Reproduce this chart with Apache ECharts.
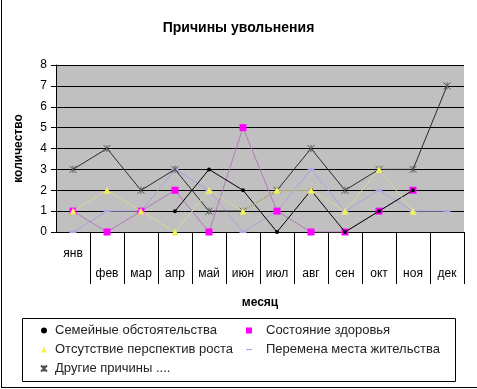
<!DOCTYPE html>
<html>
<head>
<meta charset="utf-8">
<script src="https://cdn.jsdelivr.net/npm/echarts@6/dist/echarts.min.js"></script>
<style>html,body{margin:0;padding:0;background:#fff}#c{width:477px;height:389px}</style>
</head>
<body>
<div id="c"></div>
<script>
var months = ['янв','фев','мар','апр','май','июн','июл','авг','сен','окт','ноя','дек'];
var yTicks = [0,1,2,3,4,5,6,7,8];
var seriesNames = ['Семейные обстоятельства','Состояние здоровья','Отсутствие перспектив роста','Перемена места жительства','Другие причины ....'];
var family   = [null,null,null,1,3,2,0,2,0,1,2,null];
var health   = [1,0,1,2,0,5,1,0,0,1,2,null];
var prospect = [1,2,1,0,2,1,2,2,1,3,1,null];
var moving   = [0,1,1,3,2,0,1,3,1,2,1,1];
var other    = [3,4,2,3,1,1,2,4,2,3,3,7];

var font = 'Liberation Sans, Arial, sans-serif';
var crossPath = 'path://M0,0L10,10M10,0L0,10M5,0L5,10';
var dashPath = 'path://M0,4H10V6H0Z';
var chart = echarts.init(document.getElementById('c'), null, {renderer:'canvas'});
function ser(name, data, lineColor, symbol, size, itemColor, z){
  return {name:name, type:'line', data:data, symbol:symbol, symbolSize:size,
    showSymbol:true, connectNulls:false, animation:false, z:z,
    lineStyle:{color:lineColor, width:1},
    itemStyle:{color:itemColor, borderColor:itemColor, borderWidth:0}};
}
var s = [
  ser(seriesNames[0], family, '#000000', 'circle', 4, '#000000', 4),
  ser(seriesNames[1], health, '#b27ab8', 'rect', 7, '#ff00ff', 3),
  ser(seriesNames[2], prospect, '#d6d69a', 'triangle', 7, '#f0f060', 6),
  ser(seriesNames[3], moving, '#ad9fdc', 'rect', [7,2], '#b0a0e8', 2),
  ser(seriesNames[4], other, '#2a2a2a', crossPath, 7, '#555555', 5)
];
s[4].itemStyle.borderWidth = 1;
var legText = {fontFamily:font, fontSize:13, color:'#222', lineHeight:13};
var opt = {
  animation:false,
  title:{text:'Причины увольнения', left:'center', top:16,
    textStyle:{fontFamily:font, fontSize:14, fontWeight:'bold', color:'#000'}},
  grid:{left:56, right:13, top:65, bottom:157, show:true, backgroundColor:'#c0c0c0', borderWidth:0},
  xAxis:{type:'category', data:months, boundaryGap:true,
    name:'месяц', nameLocation:'middle', nameGap:65,
    nameTextStyle:{fontFamily:font, fontSize:12, fontWeight:'bold', color:'#000'},
    axisLine:{show:true, lineStyle:{color:'#000', width:1}},
    axisTick:{show:true, length:52, lineStyle:{color:'#000'}, interval:function(i){return i!==0;}},
    axisLabel:{interval:0, margin:12, lineHeight:20, fontFamily:font, fontSize:12, color:'#000',
      formatter:function(v, i){ return i===0 ? v : '\n' + v; }},
    splitLine:{show:false}},
  yAxis:{type:'value', min:yTicks[0], max:yTicks[yTicks.length-1], interval:1,
    name:'количество', nameLocation:'middle', nameGap:31,
    nameTextStyle:{fontFamily:font, fontSize:12, fontWeight:'bold', color:'#000'},
    axisLine:{show:true, lineStyle:{color:'#000'}},
    axisTick:{show:true, length:5, lineStyle:{color:'#000'}},
    axisLabel:{margin:9, fontFamily:font, fontSize:12, color:'#000'},
    splitLine:{show:true, lineStyle:{color:'#000', width:1}}},
  legend:[
    {data:[{name:seriesNames[0], icon:'circle'}, {name:seriesNames[2], icon:'triangle'}, {name:seriesNames[4], icon:crossPath}],
      orient:'vertical', left:40, top:324, padding:0,
      itemWidth:6, itemHeight:6, itemGap:6, selectedMode:false,
      textStyle:Object.assign({padding:[0,0,0,3]}, legText)},
    {data:[{name:seriesNames[1], icon:'rect'}, {name:seriesNames[3], icon:dashPath}],
      orient:'vertical', left:246, top:324, padding:0,
      itemWidth:6, itemHeight:6, itemGap:6, selectedMode:false,
      textStyle:Object.assign({padding:[0,0,0,9]}, legText)}
  ],
  graphic:[
    {type:'rect', shape:{x:22.5, y:318.5, width:433, height:63}, style:{fill:'none', stroke:'#000', lineWidth:1}, z:-1},
    {type:'line', shape:{x1:1.5, y1:0, x2:1.5, y2:388}, style:{stroke:'#000', lineWidth:1}},
    {type:'line', shape:{x1:1, y1:387.5, x2:477, y2:387.5}, style:{stroke:'#000', lineWidth:1}}
  ],
  series:s
};
chart.setOption(opt);
</script>
</body>
</html>
